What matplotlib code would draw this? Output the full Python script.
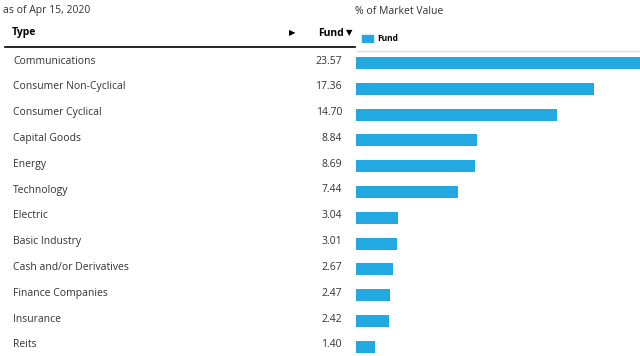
import matplotlib.pyplot as plt

types = ['Communications', 'Consumer Non-Cyclical', 'Consumer Cyclical',
         'Capital Goods', 'Energy', 'Technology', 'Electric',
         'Basic Industry', 'Cash and/or Derivatives', 'Finance Companies',
         'Insurance', 'Reits']
fund = [23.57, 17.36, 14.70, 8.84, 8.69, 7.44, 3.04, 3.01, 2.67, 2.47,
        2.42, 1.40]

W, H = 640, 356
bar_color = '#22a9e1'
txt = '#333333'
plt.rcParams['font.family'] = ['Open Sans', 'DejaVu Sans']

fig = plt.figure(figsize=(W / 100, H / 100), dpi=100, facecolor='w')

# overlay axes in pixel coordinates for the table text
tx = fig.add_axes([0, 0, 1, 1], frameon=False, xticks=[], yticks=[])
tx.set_xlim(0, W)
tx.set_ylim(H, 0)

row0, step = 63, 25.8

tx.text(3, 11, 'as of Apr 15, 2020', fontsize=7.5, color=txt, va='center')
tx.text(355, 12, '% of Market Value', fontsize=7.5, color=txt, va='center')
tx.text(12, 33, 'Type', fontsize=7.5, color='k', weight='bold', va='center')
tx.text(292, 33, '\u25b6', fontsize=6, color='k', va='center', ha='center',
        family='DejaVu Sans')
tx.text(344, 33, 'Fund', fontsize=7.5, color='k', weight='bold', va='center',
        ha='right')
tx.text(349, 33, '\u25bc', fontsize=6, color='k', va='center', ha='center',
        family='DejaVu Sans')
tx.plot([5, 355], [47, 47], color='k', lw=1.2)
tx.plot([357, 640], [51, 51], color='#dddddd', lw=1)
tx.add_patch(plt.Rectangle((362, 35), 11, 7, color=bar_color))
tx.text(377, 38.5, 'Fund', fontsize=6, color='k', weight='bold', va='center')

for i, (name, v) in enumerate(zip(types, fund)):
    y = row0 - 2 + i * step
    tx.text(13, y, name, fontsize=7.5, color=txt, va='center')
    tx.text(342, y, f'{v:.2f}', fontsize=7.5, color=txt, va='center',
            ha='right')

# bar axes (largest bar runs past the right edge, as in the source)
ax = fig.add_axes([356 / W, 0, 1 - 356 / W, (H - 50) / H], frameon=False,
                  xticks=[], yticks=[])
ax.barh(range(len(fund)), fund, height=0.465, color=bar_color)
ax.set_xlim(0, 20.75)
ax.set_ylim((H - row0) / step, -(row0 - 50) / step)

fig.savefig('out.png', dpi=100)
